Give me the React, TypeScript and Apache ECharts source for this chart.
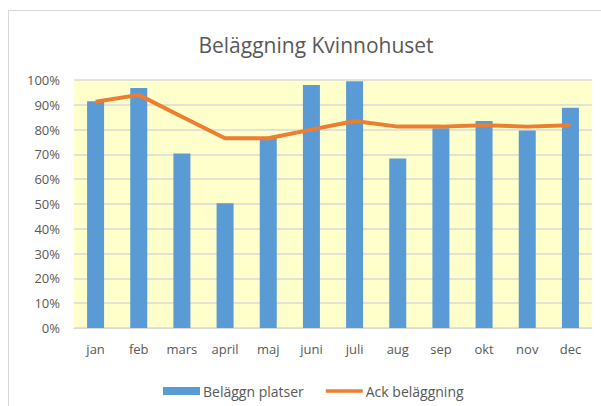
import React, { useEffect, useRef } from "react";
import * as echarts from "echarts";

const months = ["jan", "feb", "mars", "april", "maj", "juni", "juli", "aug", "sep", "okt", "nov", "dec"];
const platser = [0.914, 0.968, 0.704, 0.503, 0.767, 0.98, 0.995, 0.683, 0.805, 0.835, 0.796, 0.888];
const ackBelaggning = [0.912, 0.94, 0.852, 0.765, 0.765, 0.8, 0.835, 0.812, 0.812, 0.818, 0.812, 0.818];

const FONT = "'Open Sans', sans-serif";
const TXT = "#595959";

export default function App() {
  const ref = useRef<HTMLDivElement>(null);
  useEffect(() => {
    document.body.style.margin = "0";
    if (!ref.current) return;
    const chart = echarts.init(ref.current, null, { renderer: "svg" });
    chart.setOption({
      animation: false,
      backgroundColor: "#ffffff",
      textStyle: { fontFamily: FONT },
      title: {
        text: "Beläggning Kvinnohuset",
        left: 311,
        textAlign: "center",
        top: 29,
        textStyle: { fontFamily: FONT, fontSize: 21, fontWeight: "normal", color: TXT },
      },
      graphic: [
        {
          type: "rect",
          shape: { x: 8.5, y: 10.5, width: 700, height: 500 },
          style: { fill: "none", stroke: "#D9D9D9", lineWidth: 1 },
          silent: true,
        },
      ],
      legend: {
        left: 158,
        top: 379,
        itemWidth: 37,
        itemHeight: 8,
        itemGap: 22,
        textStyle: { fontFamily: FONT, fontSize: 14, color: TXT, padding: [0, 0, 0, -2] },
        data: [
          { name: "Beläggn platser", icon: "rect" },
          { name: "Ack beläggning", icon: "path://M0,0h40v4h-40z" },
        ],
      },
      grid: {
        left: 74,
        right: 9,
        top: 80,
        bottom: 78,
        show: true,
        backgroundColor: "#FFFFCC",
        borderWidth: 0,
        containLabel: false,
      },
      xAxis: {
        type: "category",
        data: months,
        axisLine: { show: true, lineStyle: { color: "#D9D9D9", width: 1 } },
        axisTick: { show: false },
        axisLabel: { color: TXT, fontSize: 13, fontFamily: FONT, margin: 14, interval: 0 },
      },
      yAxis: {
        type: "value",
        min: 0,
        max: 1,
        interval: 0.1,
        axisLine: { show: false },
        axisTick: { show: false },
        splitLine: { show: true, lineStyle: { color: "#D9D9D9", width: 1.5 } },
        axisLabel: {
          color: TXT,
          fontSize: 13,
          fontFamily: FONT,
          margin: 14,
          formatter: (v: number) => Math.round(v * 100) + "%",
        },
      },
      series: [
        {
          name: "Beläggn platser",
          type: "bar",
          data: platser,
          barWidth: 17,
          itemStyle: { color: "#5B9BD5" },
        },
        {
          name: "Ack beläggning",
          type: "line",
          data: ackBelaggning,
          symbol: "none",
          lineStyle: { color: "#ED7D31", width: 4 },
          itemStyle: { color: "#ED7D31" },
        },
      ],
    });
    return () => chart.dispose();
  }, []);
  return <div ref={ref} style={{ width: 601, height: 406 }} />;
}
